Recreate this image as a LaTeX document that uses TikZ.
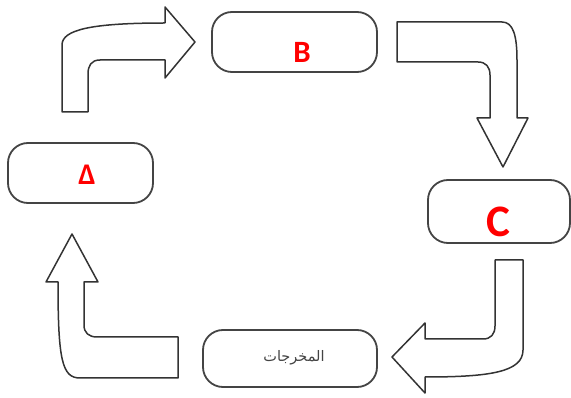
\documentclass[tikz,border=0pt]{standalone}
\usepackage{fontspec}
\setmainfont{Carlito}
\newfontfamily\arabicfont[Script=Arabic]{DejaVu Sans}
\TeXXeTstate=1
\definecolor{boxline}{HTML}{444444}
\definecolor{arrline}{HTML}{333333}
\definecolor{lblred}{HTML}{FF0000}
\definecolor{artext}{HTML}{444444}
\tikzset{
  stagebox/.style={draw=boxline, line width=1.8pt, rounded corners=20pt, fill=white, inner sep=0pt},
  blockarrow/.style={draw=arrline, line width=1.5pt, fill=white, line join=round},
  redlabel/.style={text=lblred, font=\bfseries, anchor=base, inner sep=0pt}
}
\begin{document}
\begin{tikzpicture}[x=1pt,y=-1pt]
\useasboundingbox (0,0) rectangle (571,398);
% boxes
\node[stagebox, minimum width=145pt, minimum height=60pt] (boxA) at (80.5,173) {};
\node[stagebox, minimum width=165pt, minimum height=60pt] (boxB) at (294.5,42) {};
\node[stagebox, minimum width=142pt, minimum height=63pt] (boxC) at (499,211.5) {};
\node[stagebox, minimum width=174pt, minimum height=57pt] (boxOut) at (290,358.5) {};
% labels
\node[redlabel, font=\fontsize{30}{30}\selectfont\bfseries] (lblA) at (87,185) {Δ};
\node[redlabel, font=\fontsize{31}{31}\selectfont\bfseries] (lblB) at (302,63) {B};
\node[redlabel, font=\fontsize{45}{45}\selectfont\bfseries] (lblC) at (498,237) {C};
\node[text=artext, inner sep=0pt] (lblOut) at (294,358) {\arabicfont\fontsize{14.5}{14.5}\selectfont\beginR المخرجات\endR};
% block arrows
\draw[blockarrow] (62,112) -- (62,45) .. controls (62,30) and (90,23) .. (165,23) -- (165,7) -- (195,42) -- (165,78) -- (165,60) -- (100,60) .. controls (91,60) and (88,66) .. (88,74) -- (88,112) -- cycle;
\draw[blockarrow] (397,22) -- (502,22) .. controls (513,22) and (517,35) .. (517,60) -- (517,118) -- (528,118) -- (503,167) -- (477,118) -- (490,118) -- (490,75) .. controls (490,67) and (486,62) .. (478,62) -- (397,62) -- cycle;
\draw[blockarrow] (495,260) -- (523,260) -- (523,350) .. controls (523,372) and (490,377) .. (425,377) -- (425,393) -- (392,357) -- (425,323) -- (425,339) -- (483,339) .. controls (491,339) and (495,334) .. (495,326) -- cycle;
\draw[blockarrow] (178,337) -- (178,378) -- (80,378) .. controls (62,378) and (58,360) .. (58,282) -- (46,282) -- (72,234) -- (98,282) -- (84,282) -- (84,325) .. controls (84,333) and (89,337) .. (97,337) -- cycle;
\end{tikzpicture}
\end{document}
